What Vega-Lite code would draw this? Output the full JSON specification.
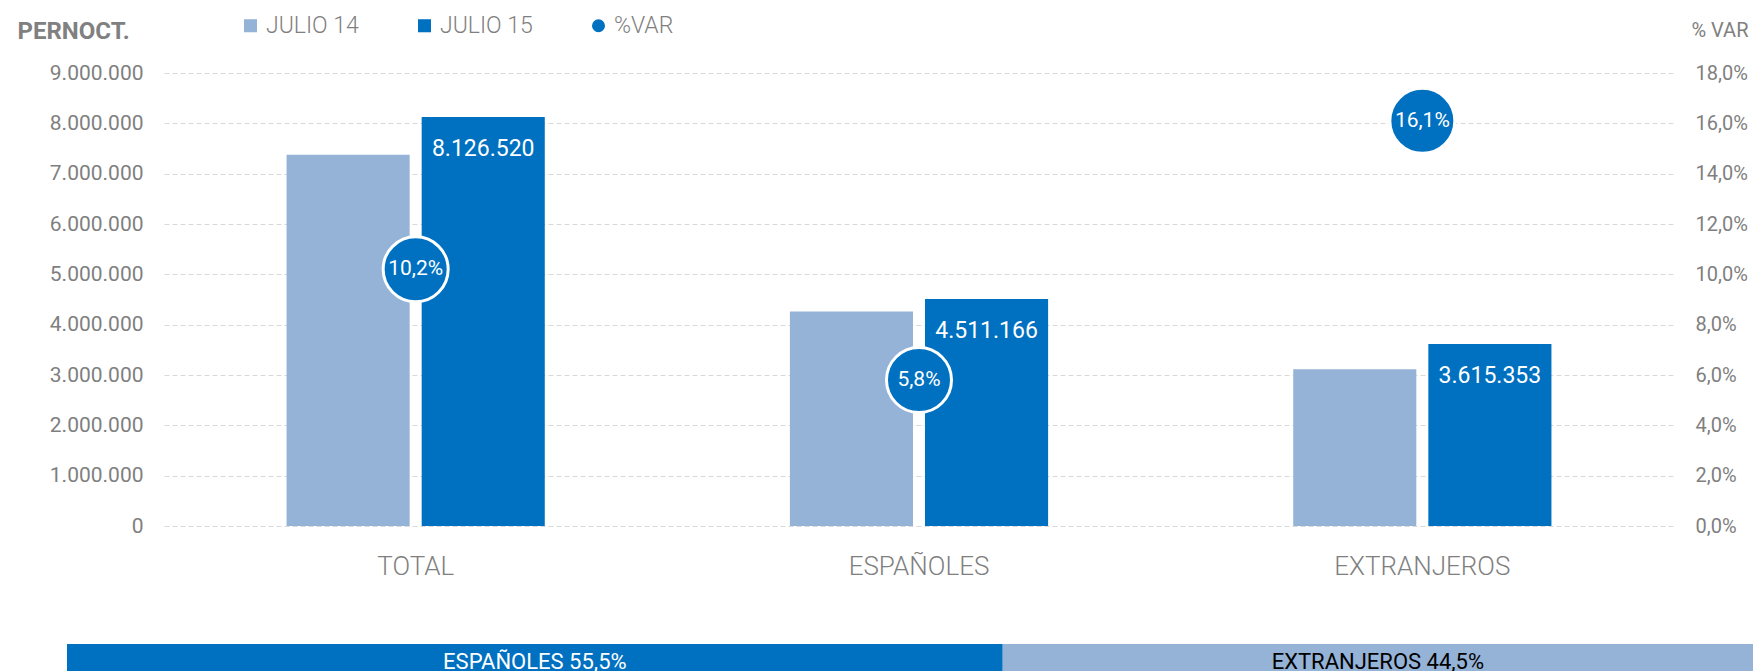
{
  "$schema": "https://vega.github.io/schema/vega-lite/v6.json",
  "background": "white",
  "padding": {"left": 17, "top": 14, "right": 0, "bottom": 0},
  "spacing": 65,
  "datasets": {
    "barras": [
      {"categoria": "TOTAL", "serie": "JULIO 14", "valor": 7377000},
      {"categoria": "TOTAL", "serie": "JULIO 15", "valor": 8126520},
      {"categoria": "ESPAÑOLES", "serie": "JULIO 14", "valor": 4263500},
      {"categoria": "ESPAÑOLES", "serie": "JULIO 15", "valor": 4511166},
      {"categoria": "EXTRANJEROS", "serie": "JULIO 14", "valor": 3113500},
      {"categoria": "EXTRANJEROS", "serie": "JULIO 15", "valor": 3615353}
    ],
    "variacion": [
      {"categoria": "TOTAL", "serie": "%VAR", "var": 0.102},
      {"categoria": "ESPAÑOLES", "serie": "%VAR", "var": 0.058},
      {"categoria": "EXTRANJEROS", "serie": "%VAR", "var": 0.161}
    ],
    "cuota": [
      {"fila": "CUOTA", "serie": "ESPAÑOLES", "cuota": 0.555, "etiqueta": "ESPAÑOLES 55,5%"},
      {"fila": "CUOTA", "serie": "EXTRANJEROS", "cuota": 0.445, "etiqueta": "EXTRANJEROS 44,5%"}
    ]
  },
  "vconcat": [
    {
      "width": 1510,
      "height": 453,
      "layer": [
        {
          "data": {"name": "barras"},
          "mark": {"type": "bar"},
          "encoding": {
            "x": {"field": "categoria", "type": "nominal", "title": null, "sort": ["TOTAL", "ESPAÑOLES", "EXTRANJEROS"], "scale": {"paddingInner": 0.487, "paddingOuter": 0.2435},
              "axis": {"labelAngle": 0, "domain": false, "ticks": false, "labelFontSize": 26, "labelFontWeight": 300, "labelColor": "#7f7f7f", "labelPadding": 27}},
            "xOffset": {"field": "serie", "type": "nominal", "scale": {"domain": ["JULIO 14", "JULIO 15"], "paddingInner": 0.089, "paddingOuter": 0}},
            "y": {"field": "valor", "type": "quantitative", "scale": {"domain": [0, 9000000], "nice": false},
              "axis": {"orient": "left", "values": [0, 1000000, 2000000, 3000000, 4000000, 5000000, 6000000, 7000000, 8000000, 9000000], "format": ",d", "grid": true, "gridColor": "#d9d9d9", "gridDash": [5, 3], "domain": false, "ticks": false, "labelColor": "#7f7f7f", "labelFontSize": 21, "labelPadding": 21,
                "title": "PERNOCT.", "titleAngle": 0, "titleX": -147, "titleY": -35, "titleAlign": "left", "titleBaseline": "alphabetic", "titleFontWeight": "bold", "titleFontSize": 24, "titleColor": "#808080"}},
            "color": {"field": "serie", "type": "nominal", "title": null, "scale": {"domain": ["JULIO 14", "JULIO 15", "%VAR"], "range": ["#95b3d7", "#0070c0", "#0070c0"]}}
          }
        },
        {
          "data": {"name": "barras"},
          "transform": [{"filter": "datum.serie === 'JULIO 15'"}],
          "mark": {"type": "text", "baseline": "alphabetic", "dy": 39, "color": "white", "fontSize": 23},
          "encoding": {
            "x": {"field": "categoria", "type": "nominal", "title": null, "sort": ["TOTAL", "ESPAÑOLES", "EXTRANJEROS"]},
            "xOffset": {"field": "serie", "type": "nominal", "scale": {"domain": ["JULIO 14", "JULIO 15"], "paddingInner": 0.089, "paddingOuter": 0}},
            "y": {"field": "valor", "type": "quantitative", "scale": {"domain": [0, 9000000], "nice": false}, "axis": null},
            "text": {"field": "valor", "type": "quantitative", "format": ",d"}
          }
        },
        {
          "data": {"name": "variacion"},
          "mark": {"type": "point", "filled": true, "size": 4225, "stroke": "white", "strokeWidth": 3, "opacity": 1},
          "encoding": {
            "x": {"field": "categoria", "type": "nominal", "title": null, "sort": ["TOTAL", "ESPAÑOLES", "EXTRANJEROS"]},
            "y": {"field": "var", "type": "quantitative", "scale": {"domain": [0, 0.18], "nice": false},
              "axis": {"orient": "right", "values": [0, 0.02, 0.04, 0.06, 0.08, 0.1, 0.12, 0.14, 0.16, 0.18], "format": ".1%", "grid": false, "domain": false, "ticks": false, "labelColor": "#7f7f7f", "labelFontSize": 20, "labelPadding": 21,
                "title": "% VAR", "titleAngle": 0, "titleX": 17, "titleY": -37, "titleAlign": "left", "titleBaseline": "alphabetic", "titleFontWeight": "normal", "titleFontSize": 20, "titleColor": "#808080"}},
            "color": {"field": "serie", "type": "nominal", "title": null, "scale": {"domain": ["JULIO 14", "JULIO 15", "%VAR"], "range": ["#95b3d7", "#0070c0", "#0070c0"]}},
            "shape": {"field": "serie", "type": "nominal", "title": null, "scale": {"domain": ["JULIO 14", "JULIO 15", "%VAR"], "range": ["square", "square", "circle"]}}
          }
        },
        {
          "data": {"name": "variacion"},
          "mark": {"type": "text", "baseline": "middle", "align": "center", "color": "white", "fontSize": 21},
          "encoding": {
            "x": {"field": "categoria", "type": "nominal", "title": null, "sort": ["TOTAL", "ESPAÑOLES", "EXTRANJEROS"]},
            "y": {"field": "var", "type": "quantitative", "scale": {"domain": [0, 0.18], "nice": false}, "axis": null},
            "text": {"field": "var", "type": "quantitative", "format": ".1%"}
          }
        }
      ],
      "resolve": {"scale": {"y": "independent"}}
    },
    {
      "width": 1510,
      "height": 36,
      "data": {"name": "cuota"},
      "layer": [
        {
          "mark": {"type": "bar", "clip": false},
          "encoding": {
            "x": {"field": "cuota", "type": "quantitative", "stack": "zero", "scale": {"domain": [0.05753, 0.95314], "nice": false, "zero": false}, "axis": null},
            "y": {"field": "fila", "type": "nominal", "title": null, "axis": null, "scale": {"paddingInner": 0, "paddingOuter": 0}},
            "color": {"field": "serie", "type": "nominal", "scale": {"domain": ["ESPAÑOLES", "EXTRANJEROS"], "range": ["#0070c0", "#95b3d7"]}, "legend": null}
          }
        },
        {
          "mark": {"type": "text", "baseline": "middle", "align": "center", "fontSize": 22},
          "encoding": {
            "x": {"field": "cuota", "type": "quantitative", "stack": "zero", "bandPosition": 0.5, "axis": null},
            "y": {"field": "fila", "type": "nominal", "title": null, "axis": null},
            "detail": {"field": "serie", "type": "nominal"},
            "text": {"field": "etiqueta", "type": "nominal"},
            "color": {"condition": {"test": "datum.serie === 'ESPAÑOLES'", "value": "white"}, "value": "black"}
          }
        }
      ]
    }
  ],
  "resolve": {"scale": {"x": "independent", "y": "independent", "color": "independent", "shape": "independent"}},
  "config": {
    "view": {"stroke": null},
    "font": "Roboto",
    "locale": {"number": {"decimal": ",", "thousands": ".", "grouping": [3], "currency": ["", " €"]}},
    "legend": {"orient": "none", "legendX": 75, "legendY": -59, "direction": "horizontal", "symbolSize": 170, "symbolStrokeWidth": 0, "labelFontSize": 23, "labelFontWeight": 300, "labelColor": "#7f7f7f", "labelOffset": 4, "columnPadding": 54}
  }
}
